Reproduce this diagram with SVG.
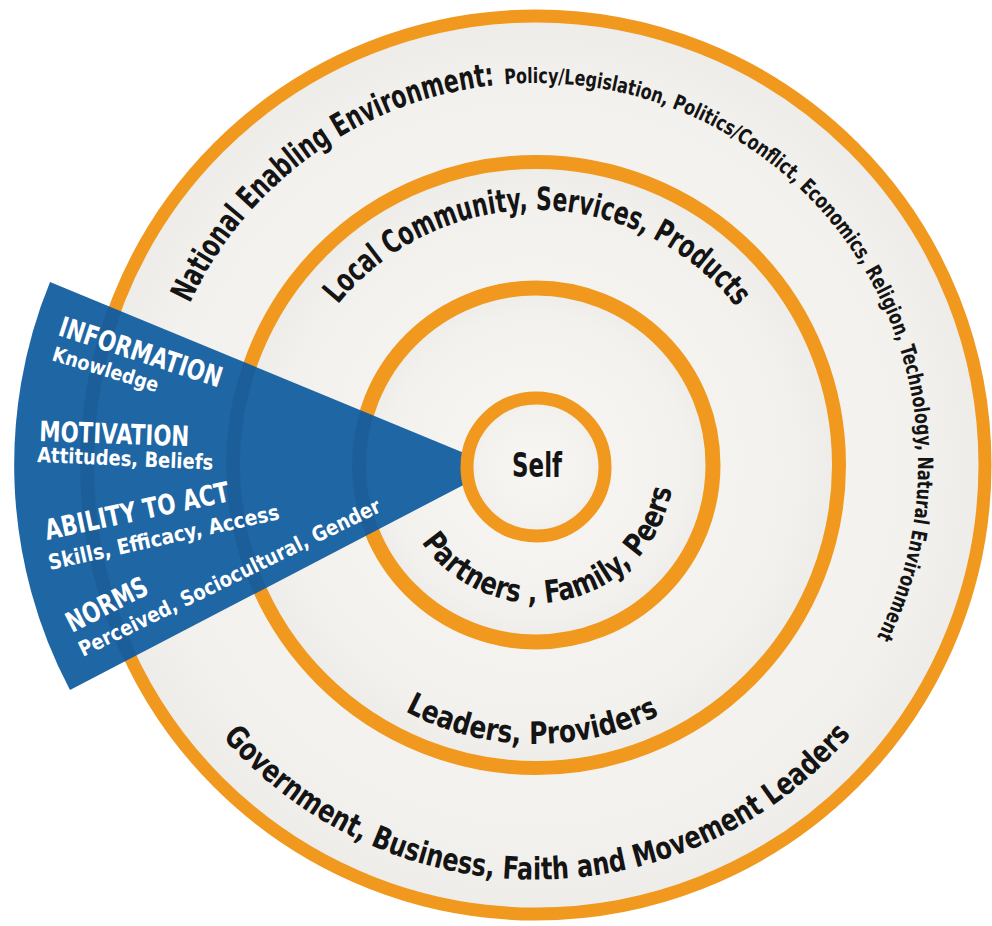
<svg xmlns="http://www.w3.org/2000/svg" width="992" height="926" viewBox="0 0 992 926">
<defs>
<radialGradient id="bandFill" cx="0.5" cy="0.5" r="0.5">
<stop offset="0" stop-color="#F8F7F5"/>
<stop offset="0.85" stop-color="#F3F1ED"/>
<stop offset="1" stop-color="#EEECE8"/>
</radialGradient>
<clipPath id="wedgeClip"><path d="M498 467 L50 282 A483 483 0 0 0 70 690 Z"/></clipPath>
<path id="p-nat" d="M189.8 303.6 A382 382 0 0 1 496.1 85.1"/>
<path id="p-pol" d="M504.7 84.3 A382 382 0 0 1 876.4 638.4"/>
<path id="p-loc" d="M337.8 304.5 A255 255 0 0 1 736.9 308.0"/>
<path id="p-par" d="M421.6 542.2 A138 138 0 0 0 671.9 489.0"/>
<path id="p-lea" d="M405.0 711.3 A279 279 0 0 0 660.5 714.7"/>
<path id="p-gov" d="M222.8 737.3 A416 416 0 0 0 851.6 734.5"/>
</defs>
<style>
.ring{fill:url(#bandFill);stroke:#F0991E;}
.lbl{font-family:"Liberation Sans Narrow","DejaVu Sans Condensed","Liberation Sans",sans-serif;font-weight:bold;fill:#141414;}
.w{fill:#FFFFFF;}
.ghost{fill:none;stroke:#000;stroke-opacity:0.07;stroke-width:14;}
</style>
<rect width="992" height="926" fill="#FFFFFF"/>
<g id="ring-national">
<circle class="ring" cx="536" cy="465" r="449" stroke-width="13"/>
<text class="lbl" font-size="32"><textPath href="#p-nat" textLength="392" lengthAdjust="spacingAndGlyphs">National Enabling Environment:</textPath></text>
<text class="lbl" font-size="21"><textPath href="#p-pol" textLength="810" lengthAdjust="spacingAndGlyphs">Policy/Legislation, Politics/Conflict, Economics, Religion, Technology, Natural Environment</textPath></text>
<text class="lbl" font-size="31"><textPath href="#p-gov" textLength="712" lengthAdjust="spacingAndGlyphs">Government, Business, Faith and Movement Leaders</textPath></text>
</g>
<g id="ring-community">
<circle class="ring" cx="536" cy="465" r="303" stroke-width="14"/>
<text class="lbl" font-size="32"><textPath href="#p-loc" textLength="457" lengthAdjust="spacingAndGlyphs">Local Community, Services, Products</textPath></text>
<text class="lbl" font-size="31"><textPath href="#p-lea" textLength="264" lengthAdjust="spacingAndGlyphs">Leaders, Providers</textPath></text>
</g>
<g id="ring-partners">
<circle class="ring" cx="536" cy="465" r="177" stroke-width="15"/>
<text class="lbl" font-size="31"><textPath href="#p-par" textLength="327" lengthAdjust="spacingAndGlyphs">Partners , Family, Peers</textPath></text>
</g>
<g id="wedge">
<path d="M498 467 L50 282 A483 483 0 0 0 70 690 Z" fill="#1F66A5"/>
<g clip-path="url(#wedgeClip)">
<circle class="ghost" cx="536" cy="465" r="449"/>
<circle class="ghost" cx="536" cy="465" r="303"/>
<circle class="ghost" cx="536" cy="465" r="177"/>
</g>
<text class="lbl w" font-size="28" x="57" y="335" transform="rotate(18 57 335)" textLength="170" lengthAdjust="spacingAndGlyphs">INFORMATION</text>
<text class="lbl w" font-size="20" x="51" y="360" transform="rotate(17 51 360)" textLength="110" lengthAdjust="spacingAndGlyphs">Knowledge</text>
<text class="lbl w" font-size="28" x="39" y="441" transform="rotate(2 39 441)" textLength="150" lengthAdjust="spacingAndGlyphs">MOTIVATION</text>
<text class="lbl w" font-size="21" x="37" y="462" transform="rotate(2.5 37 462)" textLength="176" lengthAdjust="spacingAndGlyphs">Attitudes, Beliefs</text>
<text class="lbl w" font-size="28" x="47" y="540" transform="rotate(-12 47 540)" textLength="188" lengthAdjust="spacingAndGlyphs">ABILITY TO ACT</text>
<text class="lbl w" font-size="21" x="50" y="570" transform="rotate(-12.5 50 570)" textLength="236" lengthAdjust="spacingAndGlyphs">Skills, Efficacy, Access</text>
<text class="lbl w" font-size="28" x="72" y="633" transform="rotate(-27 72 633)" textLength="88" lengthAdjust="spacingAndGlyphs">NORMS</text>
<text class="lbl w" font-size="21" x="83" y="657" transform="rotate(-26 83 657)" textLength="333" lengthAdjust="spacingAndGlyphs">Perceived, Sociocultural, Gender</text>
</g>
<g id="ring-self">
<circle class="ring" cx="536" cy="467" r="69" stroke-width="13"/>
<text class="lbl" font-size="34" x="537" y="477" text-anchor="middle" textLength="50" lengthAdjust="spacingAndGlyphs">Self</text>
</g>
</svg>
